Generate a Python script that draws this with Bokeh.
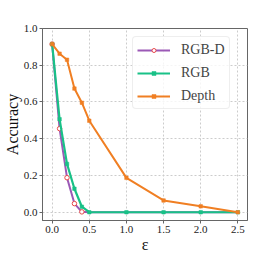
from bokeh.plotting import figure
from bokeh.models import Range1d, FixedTicker, Legend, LegendItem, PrintfTickFormatter
from bokeh.embed import file_html
from bokeh.resources import INLINE

eps = [0.0, 0.1, 0.2, 0.3, 0.4, 0.5, 1.0, 1.5, 2.0, 2.5]
rgbd = [0.915, 0.455, 0.188, 0.047, 0.002, 0.0, 0.0, 0.0, 0.0, 0.0]
rgb = [0.915, 0.506, 0.263, 0.128, 0.03, 0.0, 0.0, 0.0, 0.0, 0.0]
depth = [0.915, 0.863, 0.83, 0.673, 0.596, 0.498, 0.187, 0.064, 0.032, 0.0]
x_ticks = [0.0, 0.5, 1.0, 1.5, 2.0, 2.5]
y_ticks = [0.0, 0.2, 0.4, 0.6, 0.8, 1.0]

C_RGBD = "#9b59b6"
C_RGB = "#19c187"
C_DEPTH = "#f07f23"
FONT = "Liberation Serif"

p = figure(frame_width=205, frame_height=192, output_backend="svg", toolbar_location=None,
           x_range=Range1d(-0.13, 2.63), y_range=Range1d(-0.045, 1.0),
           min_border_left=33, min_border_right=11, min_border_top=28, min_border_bottom=2)

p.outline_line_color = "#666666"
p.outline_line_width = 1
p.background_fill_color = "white"
p.border_fill_color = "white"

for ax in (p.xaxis[0], p.yaxis[0]):
    ax.axis_line_color = "#666666"
    ax.major_tick_line_color = "#666666"
    ax.minor_tick_line_color = None
    ax.major_tick_in = 0
    ax.major_tick_out = 3
    ax.major_label_text_font = FONT
    ax.major_label_text_font_size = "11px"
    ax.major_label_text_color = "#222222"
    ax.axis_label_text_font = FONT
    ax.axis_label_text_font_size = "16px"
    ax.axis_label_text_font_style = "normal"
    ax.axis_label_text_color = "#111111"
    ax.major_label_standoff = 2
    ax.axis_label_standoff = 0
    ax.formatter = PrintfTickFormatter(format="%.1f")

p.xaxis[0].ticker = FixedTicker(ticks=x_ticks)
p.yaxis[0].ticker = FixedTicker(ticks=y_ticks)
p.xaxis[0].axis_label = "ε"
p.yaxis[0].axis_label = "Accuracy"

p.grid.grid_line_color = "#cccccc"
p.grid.grid_line_dash = "2 2"
p.grid.grid_line_width = 1
p.xgrid.ticker = FixedTicker(ticks=x_ticks)
p.ygrid.ticker = FixedTicker(ticks=y_ticks)

l1 = p.line(eps, rgbd, line_color=C_RGBD, line_width=2)
m1 = p.scatter(eps[:5], rgbd[:5], marker="circle", size=4.5, fill_color="white",
               line_color="#e8484a", line_width=1)
l2 = p.line(eps, rgb, line_color=C_RGB, line_width=2.2)
m2 = p.scatter(eps, rgb, marker="square", size=3.5, fill_color=C_RGB, line_color=C_RGB, line_width=0.5)
l3 = p.line(eps, depth, line_color=C_DEPTH, line_width=2)
m3 = p.scatter(eps, depth, marker="square", size=3.5, fill_color=C_DEPTH, line_color=C_DEPTH, line_width=0.5)

legend = Legend(items=[
    LegendItem(label="RGB-D", renderers=[l1, m1]),
    LegendItem(label="RGB", renderers=[l2, m2]),
    LegendItem(label="Depth", renderers=[l3, m3]),
], location=(90, 111))
legend.label_text_font = FONT
legend.label_text_font_size = "14px"
legend.glyph_width = 33
legend.glyph_height = 10
legend.label_height = 17
legend.label_standoff = 11
legend.spacing = 6
legend.padding = 4
legend.margin = 0
legend.border_line_color = "#dddddd"
legend.border_line_width = 1
legend.border_radius = 4
legend.background_fill_alpha = 0.8
p.add_layout(legend, "center")

open("out.html", "w").write(file_html(p, INLINE))
